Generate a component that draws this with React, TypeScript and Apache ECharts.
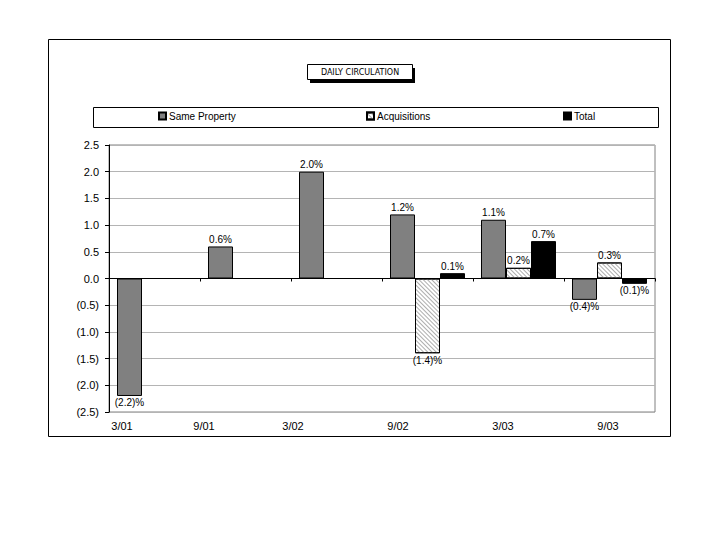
import React, { useEffect, useRef } from "react";
import * as echarts from "echarts";

const categories = ["3/01", "9/01", "3/02", "9/02", "3/03", "9/03"];
const samePropertyValues: (number | null)[] = [-2.2, 0.6, 2.0, 1.2, 1.1, -0.4];
const acquisitionsValues: (number | null)[] = [null, null, null, -1.4, 0.2, 0.3];
const totalValues: (number | null)[] = [null, null, null, 0.1, 0.7, -0.1];
const seriesNames = ["Same Property", "Acquisitions", "Total"];
const titleText = "DAILY CIRCULATION";
const yMin = -2.5;
const yMax = 2.5;
const yInterval = 0.5;

// style: right padding used to shift each category label left (as in the reference)
const labelShiftPadding = [65, 83, 87, 59, 31, 3];

const FONT = "'Liberation Sans', Arial, sans-serif";

function fmtAxis(v: number): string {
  const s = Math.abs(v).toFixed(1);
  return v < 0 ? `(${s})` : s;
}

function fmtLabel(v: number): string {
  const s = Math.abs(v).toFixed(1);
  return v < 0 ? `(${s})%` : `${s}%`;
}

function makeData(values: (number | null)[]) {
  return values.map((v) =>
    v == null ? "-" : { value: v, label: { position: v < 0 ? "bottom" : "top" } }
  );
}

const labelStyle = {
  show: true,
  fontSize: 10,
  fontFamily: FONT,
  color: "#000",
  distance: 2,
  formatter: (p: any) => fmtLabel(p.value as number),
};

export default function App() {
  const ref = useRef<HTMLDivElement>(null);

  useEffect(() => {
    if (!ref.current) return;
    const chart = echarts.init(ref.current, undefined, { renderer: "svg" });

    const rich: Record<string, any> = {};
    labelShiftPadding.forEach((p, i) => {
      rich["s" + i] = {
        padding: [0, p, 0, 0],
        fontSize: 11,
        fontFamily: FONT,
        color: "#000",
      };
    });

    const legendLefts = [158, 366, 563];

    chart.setOption({
      animation: false,
      backgroundColor: "#fff",
      textStyle: { fontFamily: FONT },
      grid: {
        left: 109,
        right: 65,
        top: 145,
        bottom: 128,
        show: true,
        borderColor: "#808080",
        borderWidth: 1,
        containLabel: false,
      },
      legend: seriesNames.map((n, i) => ({
        data: [n],
        left: legendLefts[i],
        top: 111,
        padding: 0,
        icon: "rect",
        itemWidth: 7,
        itemHeight: 7,
        itemGap: 0,
        textStyle: { fontSize: 10, fontFamily: FONT, color: "#000", padding: [0, 0, 0, -2] },
        selectedMode: false,
      })),
      xAxis: [
        {
          type: "category",
          data: categories,
          position: "bottom",
          axisLine: { onZero: true, lineStyle: { color: "#000", width: 1 } },
          axisTick: { show: true, length: 3, lineStyle: { color: "#000" } },
          axisLabel: { show: false },
          splitLine: { show: false },
        },
        {
          type: "category",
          data: categories,
          position: "bottom",
          axisLine: { show: false, onZero: false },
          axisTick: { show: false },
          axisLabel: {
            show: true,
            margin: 8,
            formatter: (v: string, i: number) => `{s${i}|${v}}`,
            rich,
          },
          splitLine: { show: false },
        },
      ],
      yAxis: {
        type: "value",
        min: yMin,
        max: yMax,
        interval: yInterval,
        axisLine: { show: true, lineStyle: { color: "#000", width: 1 } },
        axisTick: { show: true, length: 4, lineStyle: { color: "#000" } },
        axisLabel: {
          margin: 10,
          fontSize: 11,
          fontFamily: FONT,
          color: "#000",
          formatter: (v: number) => fmtAxis(v),
        },
        splitLine: { show: true, lineStyle: { color: "#b4b4b4", width: 1 } },
      },
      series: [
        {
          name: seriesNames[0],
          type: "bar",
          xAxisIndex: 0,
          barWidth: 25,
          barGap: "0%",
          data: makeData(samePropertyValues),
          itemStyle: { color: "#808080", borderColor: "#000", borderWidth: 1 },
          label: labelStyle,
        },
        {
          name: seriesNames[1],
          type: "bar",
          xAxisIndex: 0,
          barWidth: 25,
          barGap: "0%",
          data: makeData(acquisitionsValues),
          itemStyle: {
            color: "#fff",
            borderColor: "#000",
            borderWidth: 1,
            decal: {
              symbol: "rect",
              symbolSize: 1,
              dashArrayX: [1, 0],
              dashArrayY: [1, 2],
              rotation: Math.PI / 4,
              color: "#adadad",
            },
          },
          label: labelStyle,
        },
        {
          name: seriesNames[2],
          type: "bar",
          xAxisIndex: 0,
          barWidth: 25,
          barGap: "0%",
          data: makeData(totalValues),
          itemStyle: { color: "#000", borderColor: "#000", borderWidth: 1 },
          label: labelStyle,
        },
      ],
      graphic: [
        {
          type: "rect",
          z: 0,
          silent: true,
          shape: { x: 48.5, y: 39.5, width: 622, height: 397 },
          style: { fill: "none", stroke: "#000", lineWidth: 1 },
        },
        {
          type: "rect",
          z: 0,
          silent: true,
          shape: { x: 93.5, y: 107.5, width: 565, height: 20 },
          style: { fill: "none", stroke: "#000", lineWidth: 1 },
        },
        {
          type: "rect",
          z: 10,
          silent: true,
          shape: { x: 310, y: 68, width: 105, height: 15 },
          style: { fill: "#000" },
        },
        {
          type: "rect",
          z: 11,
          silent: true,
          shape: { x: 307.5, y: 64.5, width: 105, height: 15 },
          style: { fill: "#fff", stroke: "#000", lineWidth: 1 },
        },
        {
          type: "text",
          z: 12,
          silent: true,
          x: 360,
          y: 72,
          style: {
            text: titleText,
            fontSize: 8,
            fontFamily: "'DejaVu Sans', sans-serif",
            fill: "#000",
            align: "center",
            verticalAlign: "middle",
          },
        },
      ],
    });

    return () => chart.dispose();
  }, []);

  return (
    <div
      ref={ref}
      style={{ position: "absolute", left: 0, top: 0, width: 720, height: 540, background: "#fff" }}
    />
  );
}
